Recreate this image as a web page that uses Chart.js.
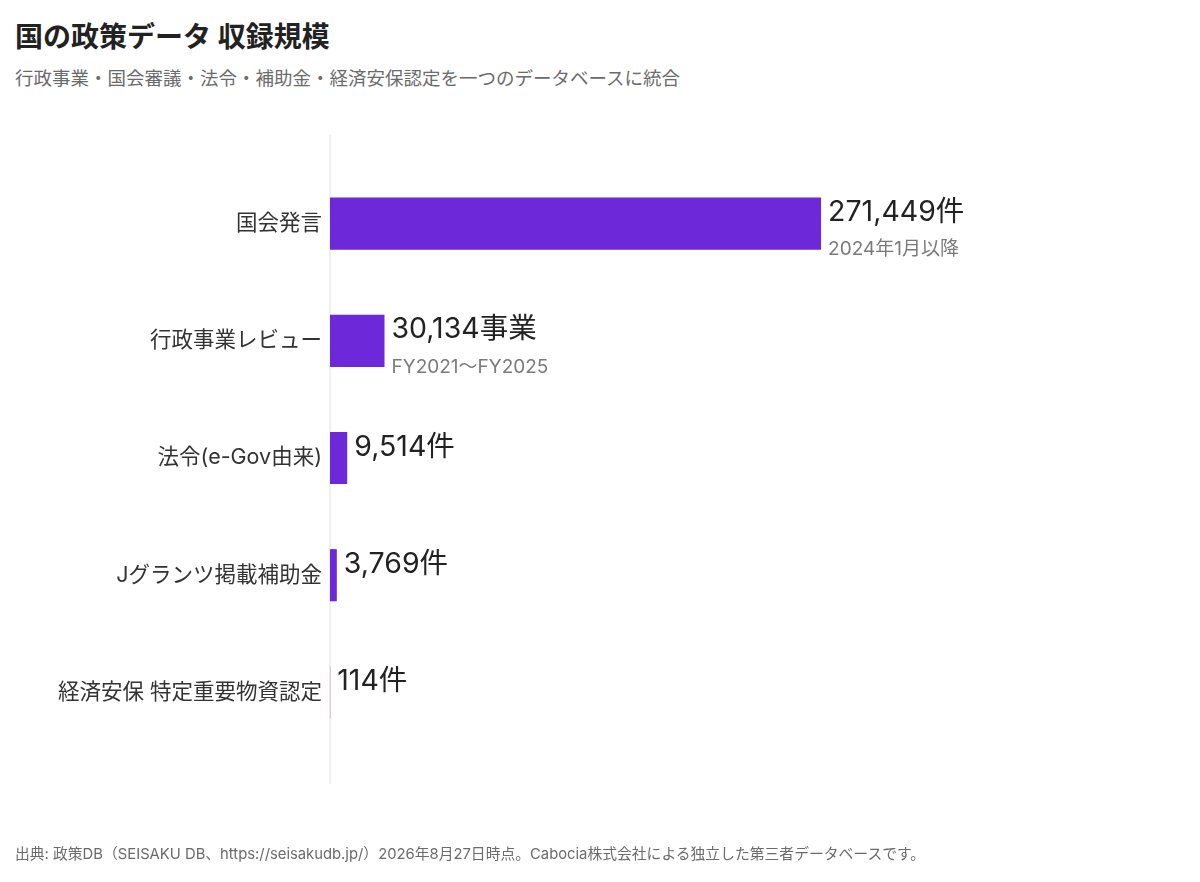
<!DOCTYPE html>
<html lang="ja">
<head>
<meta charset="utf-8">
<title>国の政策データ 収録規模</title>
<script src="https://cdn.jsdelivr.net/npm/chart.js@4/dist/chart.umd.min.js"></script>
<style>
    html, body { margin: 0; padding: 0; background: #fff; }
    body { width: 1200px; height: 882px; position: relative; overflow: hidden;
           font-family: Inter, "Noto Sans CJK JP", sans-serif; }
    #title { position: absolute; left: 15px; top: 15px; font-size: 28px; font-weight: 700; color: #222; }
    #subtitle { position: absolute; left: 15px; top: 64px; font-size: 18.5px; color: #6b6b6b; }
    #footer { position: absolute; left: 15px; top: 842px; font-size: 14.8px; color: #6b6b6b; }
    #wrap { position: absolute; left: 0; top: 0; width: 1200px; height: 882px; }
</style>
</head>
<body>
<div id="title">国の政策データ 収録規模</div>
<div id="subtitle">行政事業・国会審議・法令・補助金・経済安保認定を一つのデータベースに統合</div>
<div id="wrap"><canvas id="scaleChart"></canvas></div>
<div id="footer">出典: 政策DB（SEISAKU DB、https://seisakudb.jp/）2026年8月27日時点。Cabocia株式会社による独立した第三者データベースです。</div>
<script>
// data
const categories = ["国会発言", "行政事業レビュー", "法令(e-Gov由来)", "Jグランツ掲載補助金", "経済安保 特定重要物資認定"];
const counts = [271449, 30134, 9514, 3769, 114];
const units = ["件", "事業", "件", "件", "件"];
const notes = ["2024年1月以降", "FY2021〜FY2025", "", "", ""];

const FONT = 'Inter, "Noto Sans CJK JP", sans-serif';

// value + note labels next to each bar, plus the long zero line
const barLabels = {
    id: "barLabels",
    beforeDatasetsDraw(chart) {
        const { ctx, chartArea, scales } = chart;
        const x0 = scales.x.getPixelForValue(0);
        ctx.save();
        ctx.strokeStyle = "#ece9f1";
        ctx.lineWidth = 1.5;
        ctx.beginPath();
        ctx.moveTo(x0, chartArea.top - 30);
        ctx.lineTo(x0, chartArea.bottom + 33);
        ctx.stroke();
        ctx.restore();
    },
    afterDatasetsDraw(chart) {
        const { ctx } = chart;
        const meta = chart.getDatasetMeta(0);
        ctx.save();
        ctx.textAlign = "left";
        ctx.textBaseline = "middle";
        meta.data.forEach((bar, i) => {
            const x = bar.x + 7;
            ctx.fillStyle = "#222";
            ctx.font = "28.5px " + FONT;
            ctx.fillText(counts[i].toLocaleString("en-US") + units[i], x, bar.y - 11);
            if (notes[i]) {
                ctx.fillStyle = "#7a7a7a";
                ctx.font = "19px " + FONT;
                ctx.fillText(notes[i], x, bar.y + 26);
            }
        });
        ctx.restore();
    }
};

document.addEventListener("DOMContentLoaded", function () {
    const ctx = document.getElementById("scaleChart").getContext("2d");
    new Chart(ctx, {
        type: "bar",
        data: {
            labels: categories,
            datasets: [{
                data: counts,
                backgroundColor: "#6d28d9",
                borderWidth: 0,
                barPercentage: 0.445,
                categoryPercentage: 1
            }]
        },
        options: {
            indexAxis: "y",
            responsive: true,
            maintainAspectRatio: false,
            animation: false,
            layout: { padding: { top: 165, bottom: 131, left: 0, right: 330 } },
            plugins: {
                legend: { display: false },
                tooltip: { enabled: false }
            },
            scales: {
                x: {
                    display: false,
                    min: 0,
                    max: 298500
                },
                y: {
                    grid: { display: false },
                    border: { display: false },
                    ticks: {
                        color: "#333",
                        padding: 0,
                        font: { family: FONT, size: 21.5 }
                    },
                    afterFit(scale) { scale.width = 330; }
                }
            }
        },
        plugins: [barLabels]
    });
});
</script>
</body>
</html>
